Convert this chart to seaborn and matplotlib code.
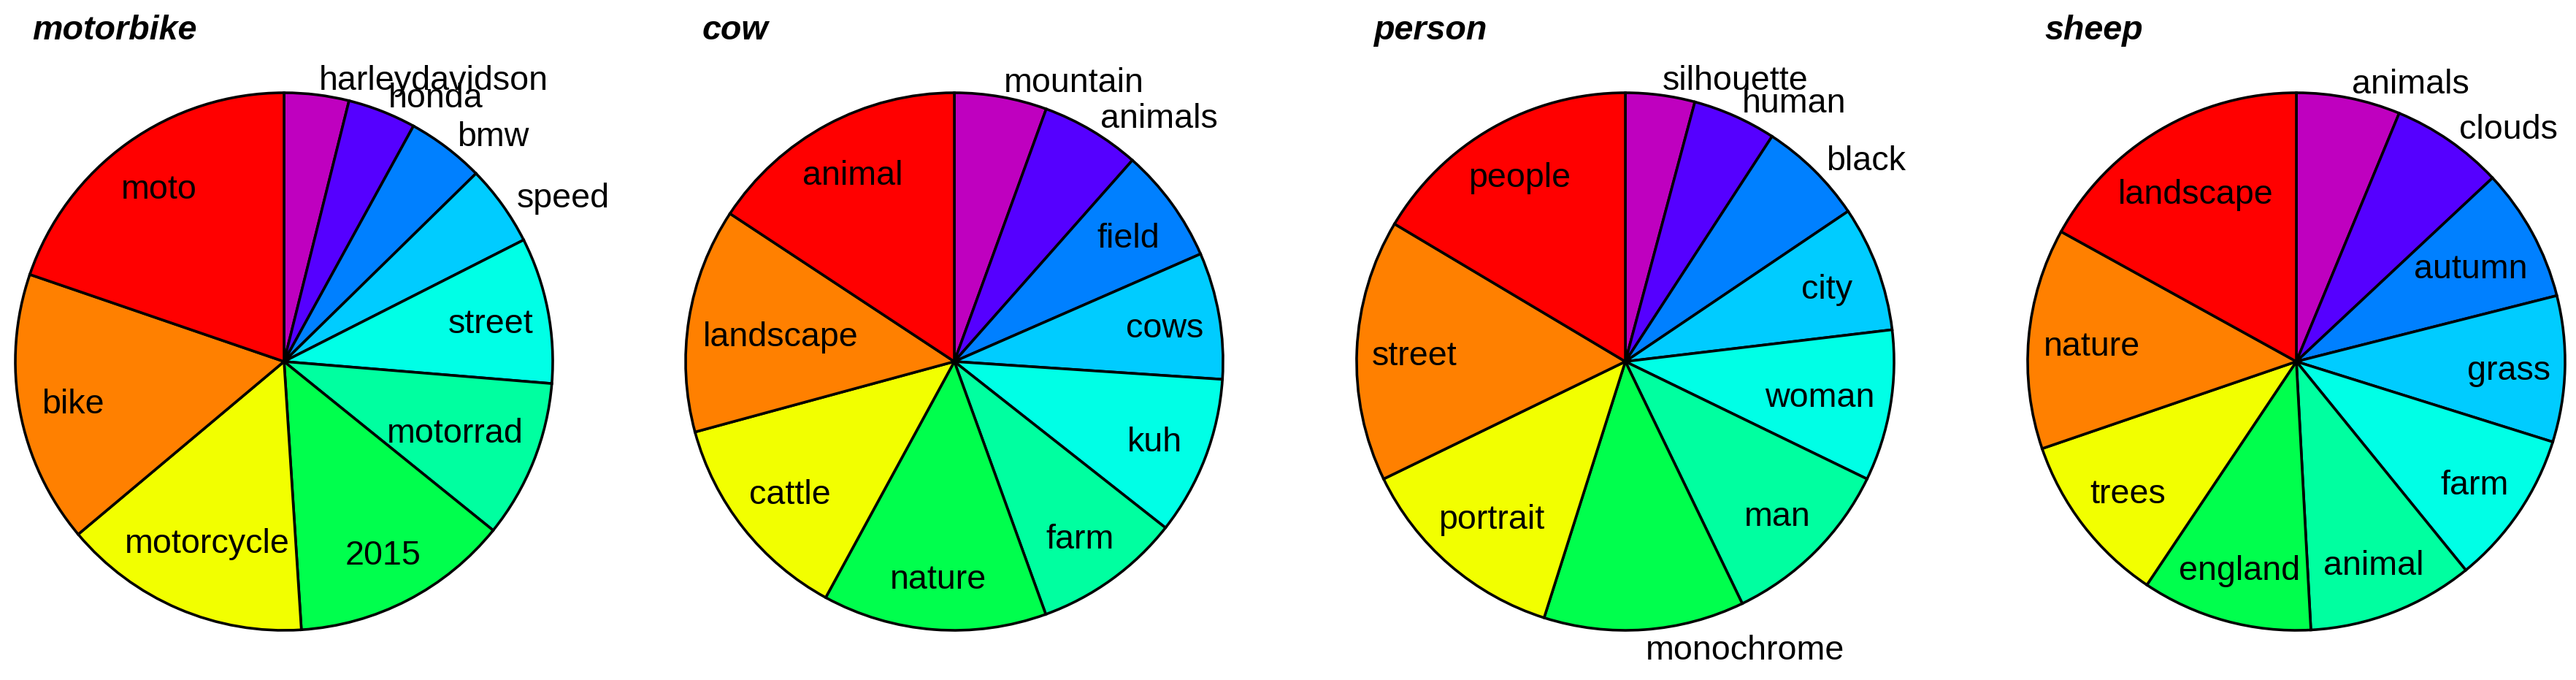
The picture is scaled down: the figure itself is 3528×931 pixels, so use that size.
import numpy as np
import matplotlib
matplotlib.use('Agg')
import matplotlib.pyplot as plt
import seaborn as sns

#%%
# tag shares per category
titles = ['motorbike', 'cow', 'person', 'sheep']

motorbike_tags = ['harleydavidson', 'honda', 'bmw', 'speed', 'street',
                  'motorrad', '2015', 'motorcycle', 'bike', 'moto']
motorbike_vals = [14.0, 14.8, 16.8, 17.5, 31.6, 34.2, 47.4, 53.7, 58.9, 71.1]

cow_tags = ['mountain', 'animals', 'field', 'cows', 'kuh',
            'farm', 'nature', 'cattle', 'landscape', 'animal']
cow_vals = [20.0, 21.5, 24.9, 27.4, 34.4, 31.9, 48.5, 46.2, 48.6, 56.6]

person_tags = ['silhouette', 'human', 'black', 'city', 'woman',
               'man', 'monochrome', 'portrait', 'street', 'people']
person_vals = [15.0, 18.1, 22.9, 27.2, 32.7, 38.3, 43.4, 46.5, 56.7, 59.2]

sheep_tags = ['animals', 'clouds', 'autumn', 'grass', 'farm',
              'animal', 'england', 'trees', 'nature', 'landscape']
sheep_vals = [22.5, 24.4, 28.9, 31.6, 33.5, 36.0, 36.9, 37.3, 47.8, 61.1]

# labels that sit outside the pie
outside = {
    'motorbike': ['harleydavidson', 'honda', 'bmw', 'speed'],
    'cow': ['mountain', 'animals'],
    'person': ['silhouette', 'human', 'black', 'monochrome'],
    'sheep': ['animals', 'clouds'],
}

pal = sns.color_palette(['#BF00BF', '#5500FF', '#0080FF', '#00CCFF', '#00FFE6',
                         '#00FFA0', '#00FF4D', '#F2FF00', '#FF8000', '#FF0000'])

#%%
sns.set_theme(style='white')
plt.rcParams['font.family'] = ['Liberation Sans', 'DejaVu Sans']
plt.rcParams['text.color'] = 'black'

W, H = 3528, 931
fig = plt.figure(figsize=(W / 100, H / 100), dpi=100)
fig.patch.set_facecolor('white')

R = 368          # pie radius in px
cy = 436         # pie centre from bottom, px
centres = [389, 1307, 2226, 3145]
half = 459
fs = 33.6

data = [(motorbike_tags, motorbike_vals), (cow_tags, cow_vals),
        (person_tags, person_vals), (sheep_tags, sheep_vals)]

axes = []
for i, (tags, vals) in enumerate(data):
    cx = centres[i]
    ax = fig.add_axes([(cx - half) / W, 0, 2 * half / W, 1])
    wedges, _ = ax.pie(vals, colors=pal, startangle=90, counterclock=False,
                       radius=1, wedgeprops=dict(edgecolor='black', linewidth=2.6))
    ax.set_xlim(-half / R, half / R)
    ax.set_ylim(-cy / R, (H - cy) / R)
    ax.axis('off')
    ax.text(-345 / R, (H - 54 - cy) / R, titles[i], ha='left', va='baseline',
            fontsize=fs, fontweight='bold', fontstyle='italic', color='black')
    axes.append((ax, tags, wedges))

fig.canvas.draw()
renderer = fig.canvas.get_renderer()

#%%
for i, (ax, tags, wedges) in enumerate(axes):
    c = ax.transData.transform((0, 0))
    rpx = ax.transData.transform((1, 0))[0] - c[0]
    for tag, w in zip(tags, wedges):
        ang = np.deg2rad((w.theta1 + w.theta2) / 2)
        ca, sa = np.cos(ang), np.sin(ang)
        if tag in outside[titles[i]]:
            ax.text(1.065 * ca, 1.065 * sa, tag, fontsize=fs, color='black',
                    ha='left' if ca >= 0 else 'right', va='center_baseline')
            continue
        t = ax.text(0.8 * ca, 0.8 * sa, tag, fontsize=fs, color='black',
                    ha='center', va='center_baseline')
        r = 0.8
        while r > 0.4:
            t.set_position((r * ca, r * sa))
            bb = t.get_window_extent(renderer)
            xs = np.array([bb.x0, bb.x1]) - c[0]
            ys = np.array([bb.y0, bb.y1]) - c[1]
            d = np.sqrt(xs[:, None] ** 2 + ys[None, :] ** 2).max()
            if d <= 0.95 * rpx:
                break
            r -= 0.005

fig.savefig('out.png', dpi=100, facecolor='white')
